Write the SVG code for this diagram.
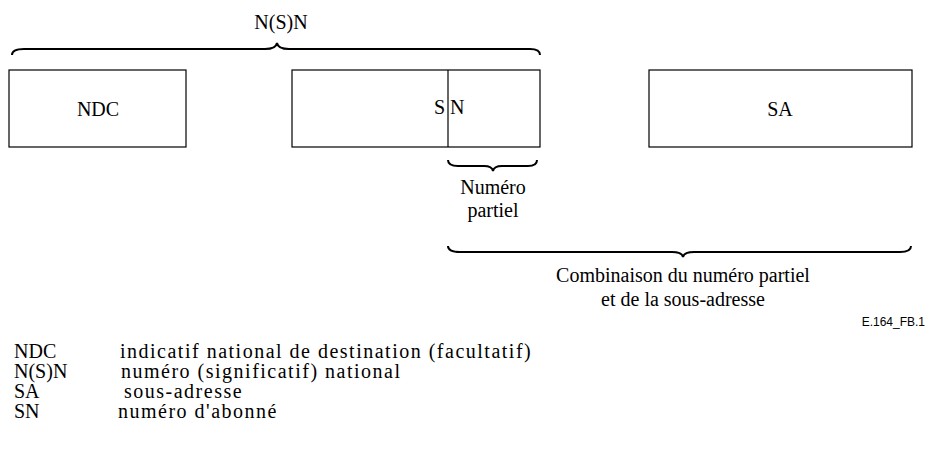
<svg xmlns="http://www.w3.org/2000/svg" width="930" height="459" viewBox="0 0 930 459">
<style>
.box{fill:#fff;stroke:#000;stroke-width:1.2}
.br{fill:none;stroke:#000;stroke-width:2}
.serif{font-family:"Liberation Serif","Times New Roman",Times,serif;fill:#000;font-size:20px}
.desc{letter-spacing:1.5px}
.tag{font-family:"Liberation Sans",Arial,sans-serif;font-size:12px}
</style>
<rect width="930" height="459" fill="#fff"/>
<g id="connectors">
<path class="br" d="M12,55 Q12,49 24,49 L265,49 Q276,49 277,43 Q278,49 289,49 L530,49 Q540,49 540,55"/>
<path class="br" d="M448,160 Q448,166 458,166 L484,166 Q492,166 493,171 Q494,166 502,166 L528,166 Q537,166 537,160"/>
<path class="br" d="M448,246 Q448,252 460,252 L672,252 Q682,252 683,257 Q684,252 694,252 L900,252 Q911,252 911,246"/>
</g>
<g class="serif">
<g id="nsn-label"><text x="281" y="29" text-anchor="middle">N(S)N</text></g>
<g id="ndc"><rect class="box" x="9" y="70" width="177" height="77"/><text x="98" y="116" text-anchor="middle">NDC</text></g>
<g id="sn"><rect class="box" x="292" y="70" width="248" height="77"/><line x1="448" y1="70" x2="448" y2="147" stroke="#000" stroke-width="1.2"/><text x="445" y="114" text-anchor="end">S</text><text x="450" y="114">N</text></g>
<g id="sa"><rect class="box" x="649" y="70" width="263" height="77"/><text x="780" y="116" text-anchor="middle">SA</text></g>
<g id="partiel"><text x="493" y="194" text-anchor="middle">Numéro</text><text x="493" y="217" text-anchor="middle">partiel</text></g>
<g id="combinaison"><text x="683" y="282" text-anchor="middle">Combinaison du numéro partiel</text><text x="683" y="306" text-anchor="middle">et de la sous-adresse</text></g>
<g id="legend">
<text x="14" y="358">NDC</text><text class="desc" x="120" y="358">indicatif national de destination (facultatif)</text>
<text x="14" y="378">N(S)N</text><text class="desc" x="121" y="378">numéro (significatif) national</text>
<text x="14" y="398">SA</text><text class="desc" x="124" y="398">sous-adresse</text>
<text x="14" y="418">SN</text><text class="desc" x="118" y="418">numéro d'abonné</text>
</g>
</g>
<text class="tag" x="925" y="326" text-anchor="end">E.164_FB.1</text>
</svg>
